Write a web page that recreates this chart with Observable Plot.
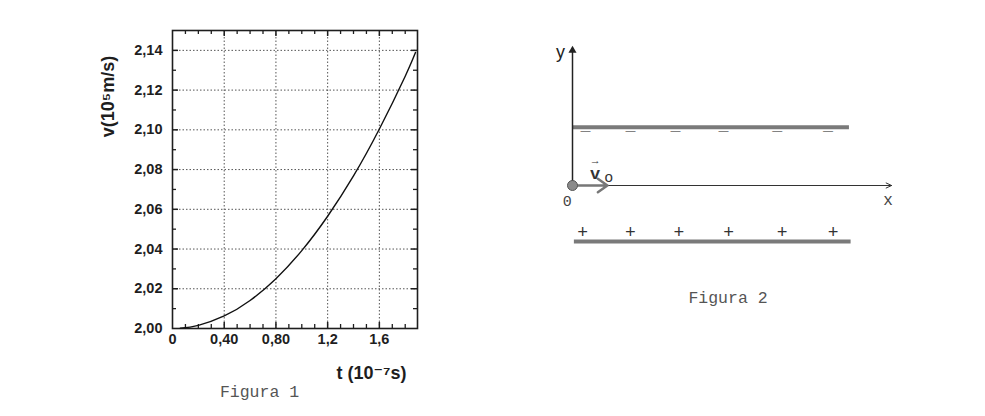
<!DOCTYPE html>
<html><head><meta charset="utf-8">
<script src="https://cdn.jsdelivr.net/npm/d3@7"></script>
<script src="https://cdn.jsdelivr.net/npm/@observablehq/plot@0.6"></script>
<style>
body{margin:0;background:#fff;}
#wrap{position:relative;width:985px;height:416px;overflow:hidden;background:#fff;}
#wrap svg{position:absolute;top:0;}
</style></head><body><div id="wrap"></div>
<script>
// ---------- Figura 1: v(t) ----------
const tValues = [0.06, 0.2, 0.4, 0.6, 0.8, 1.0, 1.2, 1.4, 1.6, 1.8, 1.88];
const vValues = [2.0001, 2.0016, 2.0063, 2.0141, 2.0251, 2.0392, 2.0565, 2.0768, 2.1004, 2.1270, 2.1390];
const xTickValues = [0, 0.4, 0.8, 1.2, 1.6];
const xTickLabels = ["0", "0,40", "0,80", "1,2", "1,6"];
const xMinorTicks = [0.1, 0.2, 0.3, 0.5, 0.6, 0.7, 0.9, 1.0, 1.1, 1.3, 1.4, 1.5, 1.7, 1.8];
const yTickValues = [2.00, 2.02, 2.04, 2.06, 2.08, 2.10, 2.12, 2.14];
const yTickLabels = ["2,00", "2,02", "2,04", "2,06", "2,08", "2,10", "2,12", "2,14"];
const yMinorTicks = [2.01, 2.03, 2.05, 2.07, 2.09, 2.11, 2.13];
const yTitle = "v(10⁵m/s)";
const xTitle = "t (10⁻⁷s)";
const caption1 = "Figura 1";

// ---------- Figura 2: diagram ----------
const topPlateX = [0, 9.98];
const topPlateY = 2.1;
const bottomPlateX = [0.05, 10.04];
const bottomPlateY = -2.02;
const minusX = [0.47, 2.09, 3.72, 5.45, 7.39, 9.22];
const minusY = 1.97;
const plusX = [0.37, 2.09, 3.84, 5.64, 7.57, 9.41];
const plusY = -1.69;
const xAxisEnd = 11.52;
const yAxisEnd = 4.88;
const v0Length = 1.26;
const caption2 = "Figura 2";

const sans = "'Liberation Sans', Arial, 'DejaVu Sans', sans-serif";
const mono = "'Liberation Mono', 'Courier New', 'DejaVu Sans Mono', monospace";
const wrap = document.getElementById("wrap");

const W1 = 440, H1 = 416, mL = 172, mR = 23, mT = 30, mB = 88;
const innerW = W1 - mL - mR, innerH = H1 - mT - mB;
const curve = tValues.map((t, i) => ({t, v: vValues[i]}));
const ink = "#1e1e1e";

const chart1 = Plot.plot({
  width: W1, height: H1,
  marginLeft: mL, marginRight: mR, marginTop: mT, marginBottom: mB,
  style: {fontFamily: sans, fontSize: "15px", fontWeight: "bold", background: "transparent", color: ink},
  x: {domain: [0, 1.895], label: null},
  y: {domain: [2.00, 2.15], label: null},
  marks: [
    Plot.gridX({ticks: xTickValues.filter(d => d > 0), stroke: "#555", strokeOpacity: 1, strokeDasharray: "1.5,2"}),
    Plot.gridY({ticks: yTickValues.filter(d => d > 2), stroke: "#555", strokeOpacity: 1, strokeDasharray: "1.5,2"}),
    // inward ticks
    Plot.ruleX(xMinorTicks, {x: d => d, insetTop: innerH - 4, stroke: ink, strokeWidth: 1.3}),
    Plot.ruleX(xMinorTicks, {x: d => d, insetBottom: innerH - 4, stroke: ink, strokeWidth: 1.3}),
    Plot.ruleX(xTickValues.filter(d => d > 0), {x: d => d, insetTop: innerH - 6, stroke: ink, strokeWidth: 1.5}),
    Plot.ruleX(xTickValues.filter(d => d > 0), {x: d => d, insetBottom: innerH - 6, stroke: ink, strokeWidth: 1.5}),
    Plot.ruleY(yMinorTicks, {y: d => d, insetRight: innerW - 4, stroke: ink, strokeWidth: 1.3}),
    Plot.ruleY(yMinorTicks, {y: d => d, insetLeft: innerW - 4, stroke: ink, strokeWidth: 1.3}),
    Plot.ruleY(yTickValues.filter(d => d > 2), {y: d => d, insetRight: innerW - 6, stroke: ink, strokeWidth: 1.5}),
    Plot.ruleY(yTickValues.filter(d => d > 2), {y: d => d, insetLeft: innerW - 6, stroke: ink, strokeWidth: 1.5}),
    Plot.frame({stroke: ink, strokeWidth: 1.6}),
    Plot.line(curve, {x: "t", y: "v", curve: "natural", stroke: "#111", strokeWidth: 1.4}),
    Plot.axisX({ticks: xTickValues, tickSize: 0, tickPadding: 5, label: null,
      tickFormat: d => xTickLabels[xTickValues.indexOf(d)], fontSize: 14.5, fontWeight: "bold"}),
    Plot.axisY({ticks: yTickValues, tickSize: 0, tickPadding: 10, label: null,
      tickFormat: d => yTickLabels[yTickValues.indexOf(d)], fontSize: 14.5, fontWeight: "bold"}),
    Plot.text([yTitle], {frameAnchor: "top-left", dx: -64, dy: 66, rotate: -90,
      textAnchor: "middle", lineAnchor: "middle", fontSize: 18, fontWeight: "bold", fill: ink}),
    Plot.text([xTitle], {frameAnchor: "bottom-left", dx: 199, dy: 45,
      textAnchor: "middle", lineAnchor: "middle", fontSize: 18, fontWeight: "bold", fill: ink}),
    Plot.text([caption1], {frameAnchor: "bottom-left", dx: 87, dy: 63,
      textAnchor: "middle", lineAnchor: "middle", fontSize: 16.5, fontFamily: mono, fontWeight: "normal", fill: "#555"})
  ]
});
chart1.style.left = "0px";
wrap.appendChild(chart1);

// ---------- diagram ----------
const W2 = 445, ox = 32, oy = 185, unit = 27.7;
const diag = Plot.plot({
  width: W2, height: 416, margin: 0,
  style: {background: "transparent"},
  x: {domain: [0, 10], range: [ox, ox + 10 * unit], axis: null},
  y: {domain: [0, 2], range: [oy, oy - 2 * unit], axis: null},
  marks: [
    // plates
    Plot.link([{x1: topPlateX[0], x2: topPlateX[1], y: topPlateY}], {x1: "x1", x2: "x2", y1: "y", y2: "y", stroke: "#7a7a7a", strokeWidth: 4}),
    Plot.link([{x1: bottomPlateX[0], x2: bottomPlateX[1], y: bottomPlateY}], {x1: "x1", x2: "x2", y1: "y", y2: "y", stroke: "#7a7a7a", strokeWidth: 4}),
    // charges
    Plot.text(minusX, {x: d => d, y: () => minusY, text: () => "—", fontSize: 10, fill: "#666", fontFamily: sans}),
    Plot.text(plusX, {x: d => d, y: () => plusY, text: () => "+", fontSize: 18, fill: "#333", fontFamily: mono}),
    // axes
    Plot.arrow([{x2: xAxisEnd}], {x1: () => 0, y1: () => 0, x2: "x2", y2: () => 0, stroke: "#333", strokeWidth: 1, headLength: 9, headAngle: 50}),
    Plot.link([{y2: yAxisEnd}], {x1: () => 0, y1: () => 0, x2: () => 0, y2: "y2", stroke: "#222", strokeWidth: 1.5}),
    Plot.dot([{y: yAxisEnd}], {x: () => 0, y: "y", symbol: "triangle", r: 3, fill: "#222", stroke: "none"}),
    // v0
    Plot.arrow([{x2: v0Length}], {x1: () => 0, y1: () => 0, x2: "x2", y2: () => 0, stroke: "#777", strokeWidth: 2.5, headLength: 8, headAngle: 70}),
    Plot.dot([{x: 0}], {x: "x", y: () => 0, r: 5, fill: "#8a8a8a", stroke: "#555", strokeWidth: 1}),
    // labels
    Plot.text(["v"], {x: () => 0.82, y: () => 0.44, fontSize: 17, fontWeight: "bold", fontFamily: mono, fill: "#333"}),
    Plot.text(["→"], {x: () => 0.82, y: () => 0.92, fontSize: 11, fontFamily: sans, fill: "#333"}),
    Plot.text(["o"], {x: () => 1.31, y: () => 0.3, fontSize: 15, fontFamily: mono, fill: "#333"}),
    Plot.text(["0"], {x: () => -0.19, y: () => -0.58, fontSize: 15, fontFamily: mono, fill: "#444"}),
    Plot.text(["x"], {x: () => 11.39, y: () => -0.51, fontSize: 16, fontFamily: mono, fill: "#444"}),
    Plot.text(["y"], {x: () => -0.43, y: () => 4.8, fontSize: 18, fontFamily: sans, fill: "#222"}),
    Plot.text([caption2], {frameAnchor: "top-left", dx: 187.5, dy: 297, textAnchor: "middle", lineAnchor: "middle",
      fontSize: 16.5, fontFamily: mono, fill: "#555"})
  ]
});
diag.style.left = "540px";
wrap.appendChild(diag);
</script>
</body></html>
